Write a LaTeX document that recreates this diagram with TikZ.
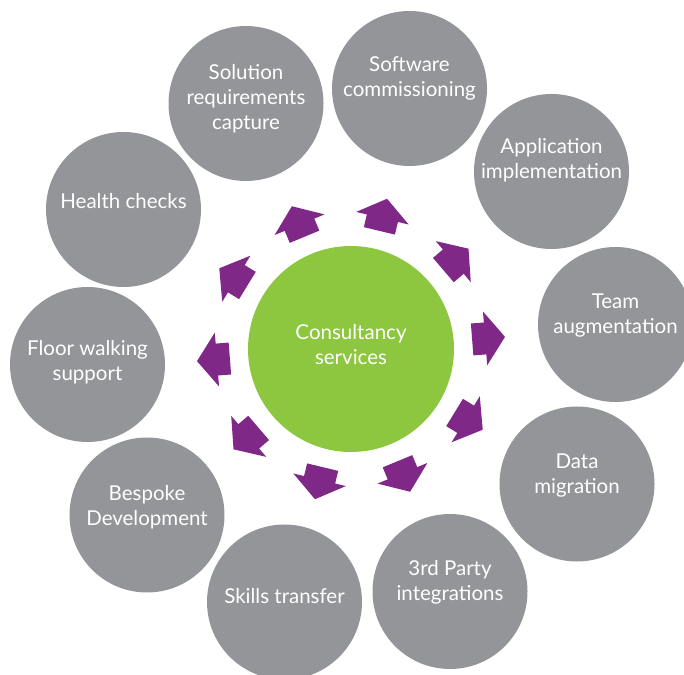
\documentclass[tikz,border=0pt]{standalone}
\usepackage{fontspec}
\setmainfont{Lato}
\usetikzlibrary{positioning}
\definecolor{bubblegray}{RGB}{147,149,152}
\definecolor{hubgreen}{RGB}{141,198,63}
\definecolor{spokepurple}{RGB}{128,40,135}

\begin{document}
\begin{tikzpicture}[x=1pt,y=1pt,
  bubble/.style={circle,fill=bubblegray,minimum size=155pt,inner sep=0pt},
  bubbletext/.style={text=white,align=center,font=\fontsize{20.5}{25}\selectfont},
  hubnode/.style={circle,fill=hubgreen,minimum size=206pt,inner sep=0pt},
  spoke/.pic={\fill[spokepurple] (121.5,-16) -- (134.5,-16) -- (134.5,-27) -- (154.5,0) -- (134.5,27) -- (134.5,16) -- (121.5,16) -- cycle;}]
\useasboundingbox (0,0) rectangle (684,674);
\node [hubnode] (hub) at (351,325) {};
\node [bubbletext] (hubtext) at ([yshift=4]hub.center) {Consultancy\\services};
\node [bubble] (soft)    at (409.5,585.5) {};
\node [bubble] (sol)     at (246,570.5)   {};
\node [bubble] (app)     at (551.5,502.5) {};
\node [bubble] (health)  at (123.5,464.5) {};
\node [bubble] (team)    at (615.5,349.5) {};
\node [bubble] (floor)   at (87.5,309.5)  {};
\node [bubble] (data)    at (577,190)     {};
\node [bubble] (bespoke) at (147,159)     {};
\node [bubble] (party)   at (450,82.5)    {};
\node [bubble] (skills)  at (284.5,72)    {};
\node [bubbletext] (softtext)    at ([yshift=10]soft.center)   {Software\\commissioning};
\node [bubbletext] (soltext)     at ([yshift=5]sol.center)     {Solution\\requirements\\capture};
\node [bubbletext] (apptext)     at ([yshift=11]app.center)    {Application\\implementation};
\node [bubbletext] (healthtext)  at ([yshift=8]health.center)  {Health checks};
\node [bubbletext] (teamtext)    at ([yshift=9]team.center)    {Team\\augmentation};
\node [bubbletext] (floortext)   at ([yshift=2]floor.center)   {Floor walking\\support};
\node [bubbletext] (datatext)    at ([yshift=8]data.center)    {Data\\migration};
\node [bubbletext] (bespoketext) at ([yshift=8]bespoke.center) {Bespoke\\Development};
\node [bubbletext] (partytext)   at ([yshift=9]party.center)   {3rd Party\\integrations};
\node [bubbletext] (skillstext)  at ([yshift=6]skills.center)  {Skills transfer};
\pic [rotate=4.5]   at (hub.center) {spoke};
\pic [rotate=40.5]  at (hub.center) {spoke};
\pic [rotate=76.5]  at (hub.center) {spoke};
\pic [rotate=112.5] at (hub.center) {spoke};
\pic [rotate=148.5] at (hub.center) {spoke};
\pic [rotate=184.5] at (hub.center) {spoke};
\pic [rotate=220.5] at (hub.center) {spoke};
\pic [rotate=256.5] at (hub.center) {spoke};
\pic [rotate=292.5] at (hub.center) {spoke};
\pic [rotate=328.5] at (hub.center) {spoke};
\end{tikzpicture}
\end{document}
